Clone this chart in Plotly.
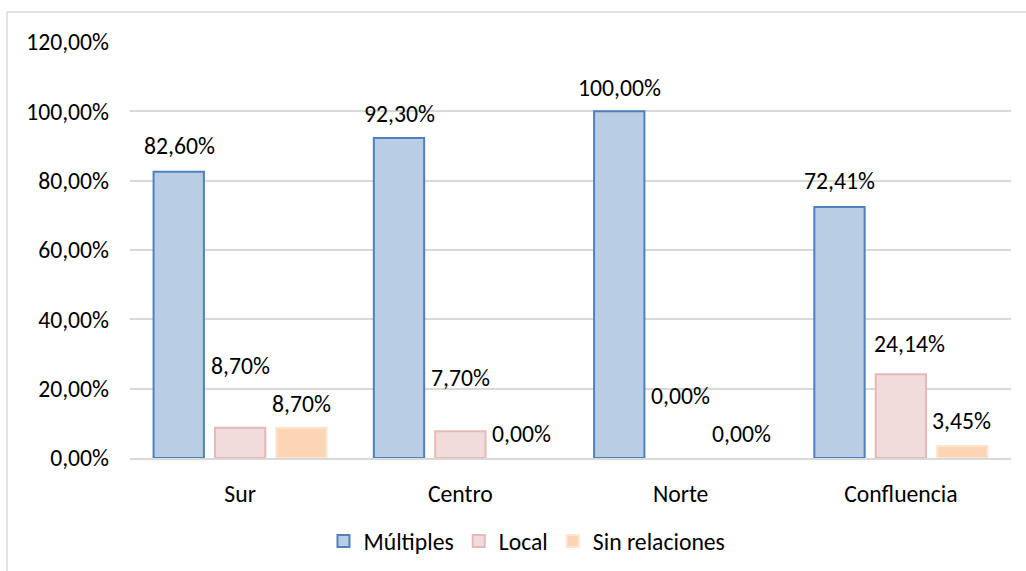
import plotly.graph_objects as go

categories = ["Sur", "Centro", "Norte", "Confluencia"]
series_names = ["Múltiples", "Local", "Sin relaciones"]
multiples = [82.60, 92.30, 100.00, 72.41]
local = [8.70, 7.70, 0.00, 24.14]
sin_relaciones = [8.70, 0.00, 0.00, 3.45]
y_tick_vals = [0, 20, 40, 60, 80, 100, 120]
y_tick_text = ["0,00%", "20,00%", "40,00%", "60,00%", "80,00%", "100,00%", "120,00%"]

values = [multiples, local, sin_relaciones]
fills = ["#B9CDE5", "#F2DCDB", "#FCD5B5"]
borders = ["#4F81BD", "#E6B9B8", "#FDE4CF"]

# label style offsets (pixels) per series / category, mimicking manual label placement
label_yshift = [
    [26, 25, 24, 26],
    [62, 54, 63, 31],
    [24, 25, 25, 26],
]
label_xshift = [
    [0, 0, 0, 0],
    [0, 0, 0, 9],
    [0, 0, 0, 0],
]
bar_spacing_px = 61

FONT = "Carlito, Lato, 'Liberation Sans', sans-serif"
FS = 23.7

fig = go.Figure()
for name, vals, fc, bc in zip(series_names, values, fills, borders):
    fig.add_trace(go.Bar(
        name=name, x=categories, y=vals,
        marker=dict(color=fc, line=dict(color=bc, width=[2 if v > 0 else 0 for v in vals])),
    ))

def fmt(v):
    return f"{v:.2f}".replace(".", ",") + "%"

for j, vals in enumerate(values):
    for i, (cat, v) in enumerate(zip(categories, vals)):
        fig.add_annotation(
            x=cat, y=v, xref="x", yref="y", text=fmt(v), showarrow=False,
            xshift=(j - 1) * bar_spacing_px + label_xshift[j][i],
            yshift=label_yshift[j][i],
            font=dict(family=FONT, size=FS, color="#000000"),
            xanchor="center", yanchor="middle",
        )

# outer chart border (top and left visible)
fig.add_shape(type="line", xref="paper", yref="paper",
              x0=-0.1396, x1=1.03, y0=1.0721, y1=1.0721,
              line=dict(color="#D9D9D9", width=1.5))
fig.add_shape(type="line", xref="paper", yref="paper",
              x0=-0.1396, x1=-0.1396, y0=1.0721, y1=-0.35,
              line=dict(color="#D9D9D9", width=1.5))

fig.update_layout(
    width=1026, height=571,
    margin=dict(l=130, r=15, t=42, b=113, autoexpand=False),
    paper_bgcolor="white", plot_bgcolor="white",
    barmode="group", bargap=0.164, bargroupgap=0.18,
    font=dict(family=FONT, size=FS, color="#000000"),
    showlegend=True,
    legend=dict(orientation="h", x=0.4506, xanchor="center",
                y=0.0525, yref="container", yanchor="middle",
                font=dict(family=FONT, size=FS, color="#000000"),
                itemwidth=30, tracegroupgap=0),
    xaxis=dict(showgrid=False, showline=True, linecolor="#D9D9D9", linewidth=1.5,
               ticks="", ticklabelstandoff=14,
               tickfont=dict(family=FONT, size=FS, color="#000000")),
    yaxis=dict(range=[0, 120], tickvals=y_tick_vals, ticktext=y_tick_text,
               showgrid=True, gridcolor="#D9D9D9", gridwidth=1.5,
               zeroline=False, showline=False, ticks="", ticklabelstandoff=20,
               tickfont=dict(family=FONT, size=FS, color="#000000")),
)

fig.write_html("out.html", config={"displayModeBar": False},
               post_script="document.body.style.margin='0';document.body.style.overflow='hidden';")
